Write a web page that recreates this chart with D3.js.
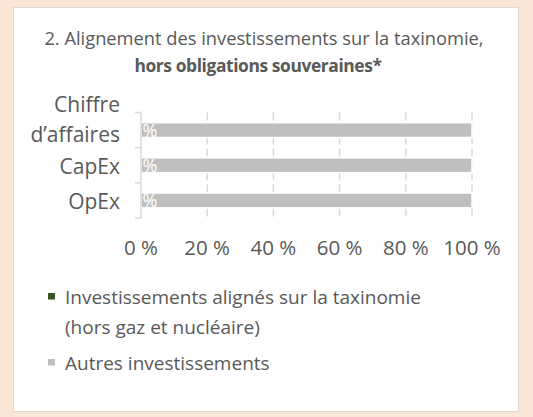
<!DOCTYPE html>
<html>
<head>
<meta charset="utf-8">
<script src="https://cdn.jsdelivr.net/npm/d3@7"></script>
<style>
  body { margin: 0; background: #fbe5d6; }
  svg { display: block; }
  text { font-family: "Open Sans", "Noto Sans", sans-serif; fill: #595959; }
</style>
</head>
<body>
<div id="chart"></div>
<script>
// Données
const categories = ["Chiffre d’affaires", "CapEx", "OpEx"];
const aligned = [0, 0, 0];        // % aligné taxinomie
const others = [100, 100, 100];   // % autres investissements
const xTicks = [0, 20, 40, 60, 80, 100];
const seriesColors = ["#375623", "#bfbfbf"];

const W = 533, H = 417;
const svg = d3.select("#chart").append("svg").attr("width", W).attr("height", H);

// panneau blanc
svg.append("rect")
    .attr("x", 13.5).attr("y", 7.5)
    .attr("width", 505).attr("height", 404)
    .attr("fill", "#fff")
    .attr("stroke", "#d9d9d9");

// titre
svg.append("text").attr("x", 264).attr("y", 45).attr("text-anchor", "middle")
    .style("font-size", "18.3px")
    .text("2. Alignement des investissements sur la taxinomie,");
svg.append("text").attr("x", 258).attr("y", 72).attr("text-anchor", "middle")
    .style("font-size", "17.4px").style("font-weight", "bold")
    .style("letter-spacing", "-0.4px")
    .text("hors obligations souveraines*");

const plot = { left: 141, right: 472, top: 112.5, bottom: 218 };

const x = d3.scaleLinear().domain([0, 100]).range([plot.left, plot.right]);
const y = d3.scaleBand().domain(categories).range([plot.top, plot.bottom])
    .paddingInner(0.58).paddingOuter(0.29);

// grille verticale pointillée
svg.append("g").selectAll("line")
    .data(xTicks.slice(1))
    .join("line")
    .attr("x1", d => x(d)).attr("x2", d => x(d))
    .attr("y1", plot.top).attr("y2", plot.bottom)
    .attr("stroke", "#d9d9d9").attr("stroke-width", 1.5)
    .attr("stroke-dasharray", "8,4");

const rows = categories.map((c, i) => ({ cat: c, aligned: aligned[i], others: others[i] }));

// barres empilées : autres investissements
svg.append("g").selectAll("rect")
    .data(rows)
    .join("rect")
    .attr("x", d => x(d.aligned))
    .attr("y", d => y(d.cat))
    .attr("width", d => x(d.aligned + d.others) - x(d.aligned))
    .attr("height", y.bandwidth())
    .attr("fill", seriesColors[1])
    .attr("stroke", "#fff").attr("stroke-width", 1.5);

// barres alignées (0 %)
svg.append("g").selectAll("rect")
    .data(rows)
    .join("rect")
    .attr("x", x(0))
    .attr("y", d => y(d.cat))
    .attr("width", d => x(d.aligned) - x(0))
    .attr("height", y.bandwidth())
    .attr("fill", seriesColors[0]);

// étiquettes de valeur en blanc
svg.append("g").selectAll("text")
    .data(rows)
    .join("text")
    .attr("x", d => x(d.aligned / 2) + 1.5)
    .attr("y", d => y(d.cat) + y.bandwidth() / 2 + 6.5)
    .attr("text-anchor", "middle")
    .style("font-size", "18px")
    .style("fill", "#fff")
    .text(d => `${d.aligned} %`);

// axe Y avec graduations entre catégories
const yAxis = svg.append("g").attr("transform", `translate(${plot.left},0)`);
yAxis.append("line")
    .attr("x1", 0).attr("x2", 0).attr("y1", plot.top).attr("y2", plot.bottom)
    .attr("stroke", "#d9d9d9").attr("stroke-width", 1.5);
const bounds = [plot.top].concat(categories.map((c, i) => plot.top + (i + 1) * (plot.bottom - plot.top) / categories.length));
yAxis.selectAll(".tk")
    .data(bounds)
    .join("line")
    .attr("class", "tk")
    .attr("x1", -6).attr("x2", 0)
    .attr("y1", d => d).attr("y2", d => d)
    .attr("stroke", "#d9d9d9").attr("stroke-width", 1.5);

// libellés catégories
const catLines = { "Chiffre d’affaires": ["Chiffre", "d’affaires"], "CapEx": ["CapEx"], "OpEx": ["OpEx"] };
categories.forEach(c => {
    const lines = catLines[c];
    const cy = y(c) + y.bandwidth() / 2;
    const t = svg.append("text")
        .attr("text-anchor", "end")
        .style("font-size", "21px");
    lines.forEach((l, i) => {
        t.append("tspan")
            .attr("x", 120)
            .attr("y", cy + 9 + (i - (lines.length - 1)) * 30 + (lines.length > 1 ? 2.5 : 0))
            .text(l);
    });
});

// libellés de l'axe X
svg.append("g").selectAll("text")
    .data(xTicks)
    .join("text")
    .attr("x", d => x(d))
    .attr("y", 255)
    .attr("text-anchor", "middle")
    .style("font-size", "20.5px")
    .text(d => `${d} %`);

// légende
const legendRows = [
    { color: seriesColors[0], lines: ["Investissements alignés sur la taxinomie", "(hors gaz et nucléaire)"], y: 304 },
    { color: seriesColors[1], lines: ["Autres investissements"], y: 370 }
];
const legend = svg.append("g");
legendRows.forEach(r => {
    legend.append("rect")
        .attr("x", 48).attr("y", r.y - 11)
        .attr("width", 7).attr("height", 6.5)
        .attr("fill", r.color);
    const t = legend.append("text").style("font-size", "19px");
    r.lines.forEach((l, i) => {
        t.append("tspan").attr("x", 65).attr("y", r.y + i * 30).text(l);
    });
});
</script>
</body>
</html>
